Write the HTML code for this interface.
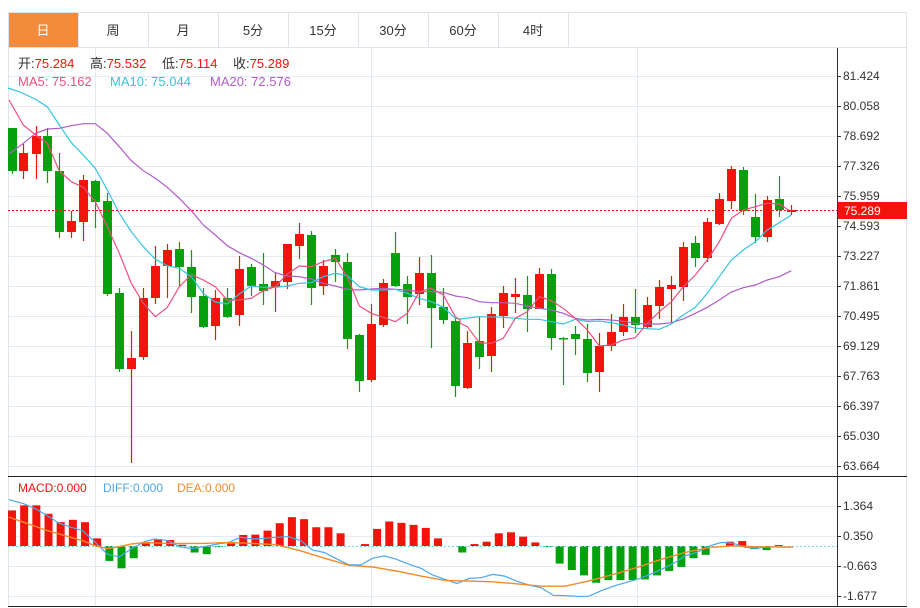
<!DOCTYPE html>
<html><head><meta charset="utf-8"><style>
html,body{margin:0;padding:0;background:#fff;}
svg{display:block;font-family:"Liberation Sans","Noto Sans CJK SC",sans-serif;}
</style></head><body>
<svg id="s" width="920" height="608" viewBox="0 0 920 608" xmlns="http://www.w3.org/2000/svg">
<rect width="920" height="608" fill="#fff"/>
<g id="grid" stroke="#e3ebf2" stroke-width="1"></g>
<g font-size="13" fill="#333" text-anchor="middle">
<rect x="8.5" y="12.5" width="898" height="35" fill="none" stroke="#dfe4ea"/>
<rect x="9" y="13" width="69" height="34" fill="#f28c3c"/>
<text x="43" y="35" fill="#fff">日</text>
<text x="113" y="35">周</text>
<text x="183" y="35">月</text>
<text x="253" y="35">5分</text>
<text x="323" y="35">15分</text>
<text x="393" y="35">30分</text>
<text x="463" y="35">60分</text>
<text x="533" y="35">4时</text>
<g stroke="#dfe4ea"><line x1="78.5" y1="12" x2="78.5" y2="47"/><line x1="148.5" y1="12" x2="148.5" y2="47"/><line x1="218.5" y1="12" x2="218.5" y2="47"/><line x1="288.5" y1="12" x2="288.5" y2="47"/><line x1="358.5" y1="12" x2="358.5" y2="47"/><line x1="428.5" y1="12" x2="428.5" y2="47"/><line x1="498.5" y1="12" x2="498.5" y2="47"/><line x1="568.5" y1="12" x2="568.5" y2="47"/></g>
</g>
<line x1="8.5" y1="47" x2="8.5" y2="606" stroke="#dfe4ea"/>
<line x1="906.5" y1="47" x2="906.5" y2="606" stroke="#dfe4ea"/>
<g id="plot"></g>
<line x1="8" y1="476.5" x2="907" y2="476.5" stroke="#222"/>
<line x1="8" y1="606.5" x2="907" y2="606.5" stroke="#222"/>
<line x1="837.5" y1="48" x2="837.5" y2="607" stroke="#333"/>
<g font-size="12" fill="#333" id="ax">
<text x="843" y="80">81.424</text>
<text x="843" y="110">80.058</text>
<text x="843" y="140">78.692</text>
<text x="843" y="170">77.326</text>
<text x="843" y="200">75.959</text>
<text x="843" y="230">74.593</text>
<text x="843" y="260">73.227</text>
<text x="843" y="290">71.861</text>
<text x="843" y="320">70.495</text>
<text x="843" y="350">69.129</text>
<text x="843" y="380">67.763</text>
<text x="843" y="410">66.397</text>
<text x="843" y="440">65.030</text>
<text x="843" y="470">63.664</text>
<text x="843" y="510">1.364</text>
<text x="843" y="540">0.350</text>
<text x="843" y="570">-0.663</text>
<text x="843" y="600">-1.677</text>
</g>
<rect x="838" y="202" width="69" height="17" fill="#f0140a"/>
<text x="844" y="215" font-size="12" fill="#fff">75.289</text>
<g font-size="13">
<text x="18" y="68" fill="#333">开:<tspan fill="#f0140a">75.284</tspan></text>
<text x="90" y="68" fill="#333">高:<tspan fill="#f0140a">75.532</tspan></text>
<text x="162" y="68" fill="#333">低:<tspan fill="#f0140a">75.114</tspan></text>
<text x="233" y="68" fill="#333">收:<tspan fill="#f0140a">75.289</tspan></text>
<text x="18" y="86" fill="#ee4e7e">MA5: 75.162</text>
<text x="110" y="86" fill="#35c4dc">MA10: 75.044</text>
<text x="210" y="86" fill="#b05cc8">MA20: 72.576</text>
</g>
<g font-size="12">
<text x="18" y="492" fill="#f0140a">MACD:0.000</text>
<text x="103" y="492" fill="#4aa8f0">DIFF:0.000</text>
<text x="177" y="492" fill="#f68a2a">DEA:0.000</text>
</g>
</svg>
<script>
var NS="http://www.w3.org/2000/svg",plot=document.getElementById('plot'),grid=document.getElementById('grid');
function el(t,a,p){var e=document.createElementNS(NS,t);for(var k in a)e.setAttribute(k,a[k]);(p||plot).appendChild(e);return e;}
for(var i=0;i<14;i++){var y=76.5+i*30;el('line',{x1:8,y1:y,x2:837,y2:y},grid);el('line',{x1:837,y1:y,x2:841,y2:y,stroke:'#333'},grid);}
[506.5,536.5,566.5,596.5].forEach(function(y){el('line',{x1:8,y1:y,x2:837,y2:y},grid);el('line',{x1:837,y1:y,x2:841,y2:y,stroke:'#333'},grid);});
[95.5,371.5,637.5].forEach(function(x){el('line',{x1:x,y1:48,x2:x,y2:606},grid);});
var C=[[12,128,171,128,174,'g'],[23,153,171,144,179,'r'],[36,136,154,126,179,'r'],[47,136,171,128,183,'g'],[59,171,232,153,238,'g'],[71,221,232,211,238,'r'],[83,180,222,175,241,'r'],[95,181,202,180,228,'g'],[107,201,294,193,296,'g'],[119,293,369,288,372,'g'],[131,358,369,331,463,'r'],[143,298,357,288,360,'r'],[155,266,298,246,304,'r'],[167,250,266,244,298,'r'],[179,249,267,242,287,'g'],[191,267,297,250,313,'g'],[203,296,327,288,328,'g'],[215,298,326,290,340,'r'],[227,298,317,288,318,'g'],[239,269,315,256,326,'r'],[251,267,286,264,296,'g'],[263,284,291,253,305,'g'],[275,281,287,272,312,'r'],[287,244,282,244,289,'r'],[299,234,246,223,259,'r'],[311,235,288,231,305,'g'],[323,266,286,260,295,'r'],[335,255,262,249,282,'g'],[347,262,339,253,349,'g'],[359,335,381,334,392,'g'],[371,324,380,304,382,'r'],[383,283,325,279,327,'r'],[395,253,286,232,287,'g'],[407,284,297,276,324,'g'],[419,273,294,257,305,'r'],[431,273,308,255,348,'g'],[443,307,320,288,324,'g'],[455,321,386,318,397,'g'],
[467,343,388,331,389,'r'],[479,341,357,317,369,'g'],[491,314,356,307,372,'r'],[503,293,316,286,328,'r'],[515,294,297,278,313,'r'],[527,295,309,276,332,'g'],[539,274,309,268,309,'r'],[551,274,338,269,350,'g'],[563,338,339,337,385,'g'],[575,334,339,326,355,'g'],[587,339,373,324,382,'g'],[599,346,372,333,392,'r'],[611,332,346,314,351,'r'],[623,317,332,304,336,'r'],[635,317,325,289,333,'g'],[647,305,327,297,329,'r'],[659,287,306,280,319,'r'],[671,285,289,276,322,'r'],[683,247,287,242,301,'r'],[695,243,258,236,267,'g'],[707,222,258,218,262,'r'],[719,199,224,193,225,'r'],[731,169,201,166,209,'r'],[743,170,211,167,215,'g'],[755,217,237,194,243,'g'],[767,200,237,196,242,'r'],[779,199,210,176,217,'g'],[791,210,212,205,215,'r']];
C.forEach(function(c){var col=c[5]=='r'?'#f0140a':'#03a20c';
el('line',{x1:c[0]+.5,y1:c[3],x2:c[0]+.5,y2:c[4],stroke:col,'stroke-width':1.2});
el('rect',{x:c[0]-4,y:c[1],width:9,height:Math.max(1.5,c[2]-c[1]),fill:col});});
function Z(pts,ox,oy){return pts.map(function(p){return (p[0]/3+ox).toFixed(1)+','+(p[1]/3+oy).toFixed(1);}).join(' ');}
function line(s,col,w){el('polyline',{points:s,fill:'none',stroke:col,'stroke-width':w||1.2});}
var ma5a=[[27,0],[70,75],[107,105],[142,130],[178,213],[214,245],[250,262],[286,305],[322,380],[358,460],[394,550],[430,610],[466,650],[502,622],[538,560],[574,524],[610,540],[646,560],[682,600],[718,600],[754,595],[790,572],[826,560],[862,522],[898,498],[934,500],[970,485],[1006,475],[1042,530],[1078,618],[1114,640],[1150,652],[1186,665],[1222,640],[1258,575],[1294,565],[1330,585],[1366,650],[1380,660]];
var ma5b=[[0,670],[22,680],[58,728],[94,730],[130,715],[166,655],[202,635],[238,590],[274,602],[310,625],[346,655],[382,690],[418,738],[454,735],[490,720],[526,713],[562,670],[598,635],[634,605],[670,560],[706,525],[742,480],[778,425],[814,355],[850,330],[886,320],[922,310],[958,312],[994,335]];
var ma10a=[[110,0],[142,20],[178,75],[214,128],[250,165],[286,205],[322,270],[358,340],[394,395],[430,440],[466,478],[502,497],[538,505],[574,530],[610,580],[646,606],[682,612],[718,582],[754,558],[790,562],[826,562],[862,558],[898,550],[934,548],[970,530],[1006,520],[1042,527],[1078,560],[1114,570],[1150,570],[1186,568],[1222,580],[1258,595],[1294,605],[1330,622],[1366,655],[1380,657]];
var ma10b=[[0,657],[58,650],[130,652],[202,658],[238,658],[274,665],[310,672],[346,658],[382,665],[418,663],[454,668],[490,675],[526,685],[562,686],[598,688],[634,672],[670,645],[706,622],[742,580],[778,530],[814,480],[850,450],[886,425],[922,390],[958,368],[994,345]];
var ma20a=[[27,162],[70,130],[107,100],[142,87],[178,85],[214,77],[250,71],[286,71],[322,100],[358,140],[394,182],[430,212],[466,235],[502,262],[538,295],[574,332],[610,375],[646,405],[682,437],[718,458],[754,475],[790,495],[826,518],[862,528],[898,530],[934,537],[970,550],[1006,558],[1042,568],[1078,570],[1114,567],[1150,565],[1186,568],[1222,570],[1258,575],[1294,575],[1330,577],[1366,588],[1380,590]];
var ma20b=[[0,590],[22,593],[58,605],[94,608],[130,608],[166,610],[202,618],[238,625],[274,630],[310,640],[346,655],[382,660],[418,658],[454,660],[490,664],[526,670],[562,672],[598,672],[634,668],[670,657],[706,640],[742,622],[778,600],[814,576],[850,563],[886,555],[922,540],[958,530],[994,512]];
line(Z(ma20a,0,100)+' '+Z(ma20b,460,100),'#b05cc8');
line('8,88 20,92 37,100 '+Z(ma10a,0,100)+' '+Z(ma10b,460,100),'#35c4dc');
line(Z(ma5a,0,100)+' '+Z(ma5b,460,100),'#ee4e7e');
el('line',{x1:8,y1:210.5,x2:837,y2:210.5,stroke:'#f0140a','stroke-dasharray':'2,2'});
var H=[120,105,105,130,155,148,155,203,270,292,262,218,205,208,222,245,250,229,218,193,192,180,158,140,146,170,170,188,225,220,175,153,157,163,172,203,225,245,220,213,188,185,198,215,229,278,297,313,335,327,327,327,325,313,300,288,262,252,225,213,211,235,238,223,226];
var zero=546;
H.forEach(function(zy,i){var x=12+i*12.17,y=470+zy/2.97;var col=y<zero?'#f0140a':'#03a20c';
var t=Math.min(y,zero),h=Math.abs(y-zero);if(h<0.8)return;el('rect',{x:x-4,y:t,width:8,height:h,fill:col});});
el('line',{x1:8,y1:546.5,x2:837,y2:546.5,stroke:'#7fd0e8','stroke-dasharray':'2,2'});
function M(pts){return pts.map(function(p){return (p[0]/1.696).toFixed(1)+','+(470+p[1]/2.97).toFixed(1);}).join(' ');}
var diff=[[15,88],[40,100],[60,115],[80,135],[100,158],[120,170],[140,180],[162,215],[182,250],[202,258],[222,235],[245,213],[262,205],[285,210],[305,228],[325,233],[345,228],[368,220],[388,215],[408,200],[428,205],[448,203],[468,200],[490,198],[510,210],[530,238],[550,245],[572,265],[592,282],[612,282],[632,262],[652,255],[672,265],[694,280],[714,292],[734,312],[755,325],[775,337],[796,322],[816,320],[836,310],[856,315],[876,330],[898,342],[918,350],[938,372],[958,373],[978,375],[998,375],[1018,360],[1040,345],[1060,335],[1080,325],[1100,312],[1122,295],[1142,278],[1162,255],[1182,245],[1204,225],[1224,215],[1244,218],[1264,230],[1284,232],[1304,228],[1324,229],[1345,229]];
var dea=[[15,140],[40,155],[80,180],[120,200],[140,210],[162,225],[182,233],[202,228],[222,220],[245,215],[285,218],[345,218],[388,215],[428,218],[468,222],[510,240],[550,262],[592,283],[632,288],[672,300],[714,315],[755,328],[796,330],[836,332],[876,338],[918,345],[958,345],[998,330],[1040,310],[1080,290],[1122,265],[1162,245],[1204,230],[1244,225],[1284,228],[1345,229]];
line(M(diff),'#4aa8f0');
line(M(dea),'#f68a2a',1.4);
</script>
</body></html>
